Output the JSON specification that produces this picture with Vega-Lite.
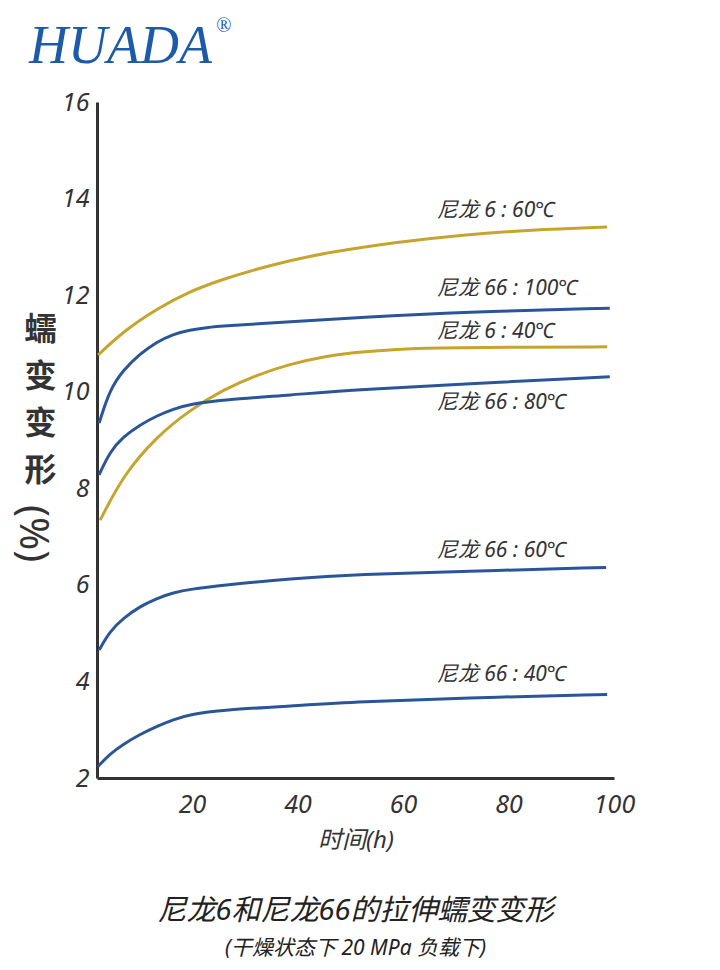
{
  "$schema": "https://vega.github.io/schema/vega-lite/v6.json",
  "width": 517,
  "height": 676,
  "autosize": {"type": "none"},
  "padding": {"left": 97, "top": 102, "right": 106, "bottom": 192},
  "background": "white",
  "config": {
    "view": {"stroke": null},
    "font": "Noto Sans, Noto Sans CJK SC"
  },
  "title": {
    "text": "尼龙6和尼龙66的拉伸蠕变变形",
    "subtitle": "(干燥状态下 20 MPa 负载下)",
    "orient": "bottom",
    "anchor": "middle",
    "frame": "group",
    "font": "Noto Sans, Noto Sans CJK SC",
    "fontSize": 29,
    "fontStyle": "italic",
    "fontWeight": "normal",
    "color": "#222222",
    "subtitleFont": "Noto Sans, Noto Sans CJK SC",
    "subtitleFontSize": 21,
    "subtitleFontStyle": "italic",
    "subtitleColor": "#222222",
    "subtitlePadding": 12,
    "offset": 45
  },
  "datasets": {
    "curves": [
      {"series": "N6_60", "material": "尼龙6", "t": 2.2, "v": 10.76},
      {"series": "N6_60", "material": "尼龙6", "t": 7.0, "v": 11.25},
      {"series": "N6_60", "material": "尼龙6", "t": 13.4, "v": 11.72},
      {"series": "N6_60", "material": "尼龙6", "t": 19.6, "v": 12.08},
      {"series": "N6_60", "material": "尼龙6", "t": 25.9, "v": 12.33},
      {"series": "N6_60", "material": "尼龙6", "t": 32.3, "v": 12.54},
      {"series": "N6_60", "material": "尼龙6", "t": 38.6, "v": 12.72},
      {"series": "N6_60", "material": "尼龙6", "t": 46.2, "v": 12.89},
      {"series": "N6_60", "material": "尼龙6", "t": 58.9, "v": 13.10},
      {"series": "N6_60", "material": "尼龙6", "t": 71.4, "v": 13.25},
      {"series": "N6_60", "material": "尼龙6", "t": 84.1, "v": 13.35},
      {"series": "N6_60", "material": "尼龙6", "t": 98.7, "v": 13.41},

      {"series": "N66_100", "material": "尼龙66", "t": 2.4, "v": 9.35},
      {"series": "N66_100", "material": "尼龙66", "t": 4.45, "v": 10.05},
      {"series": "N66_100", "material": "尼龙66", "t": 7.0, "v": 10.45},
      {"series": "N66_100", "material": "尼龙66", "t": 10.1, "v": 10.78},
      {"series": "N66_100", "material": "尼龙66", "t": 13.3, "v": 11.03},
      {"series": "N66_100", "material": "尼龙66", "t": 16.4, "v": 11.19},
      {"series": "N66_100", "material": "尼龙66", "t": 19.6, "v": 11.28},
      {"series": "N66_100", "material": "尼龙66", "t": 22.8, "v": 11.33},
      {"series": "N66_100", "material": "尼龙66", "t": 25.9, "v": 11.36},
      {"series": "N66_100", "material": "尼龙66", "t": 38.6, "v": 11.45},
      {"series": "N66_100", "material": "尼龙66", "t": 51.8, "v": 11.54},
      {"series": "N66_100", "material": "尼龙66", "t": 71.4, "v": 11.65},
      {"series": "N66_100", "material": "尼龙66", "t": 99.2, "v": 11.73},

      {"series": "N6_40", "material": "尼龙6", "t": 2.6, "v": 7.34},
      {"series": "N6_40", "material": "尼龙6", "t": 7.0, "v": 8.28},
      {"series": "N6_40", "material": "尼龙6", "t": 13.3, "v": 9.07},
      {"series": "N6_40", "material": "尼龙6", "t": 19.6, "v": 9.62},
      {"series": "N6_40", "material": "尼龙6", "t": 25.9, "v": 10.04},
      {"series": "N6_40", "material": "尼龙6", "t": 32.3, "v": 10.35},
      {"series": "N6_40", "material": "尼龙6", "t": 38.6, "v": 10.57},
      {"series": "N6_40", "material": "尼龙6", "t": 44.8, "v": 10.73},
      {"series": "N6_40", "material": "尼龙6", "t": 52.4, "v": 10.83},
      {"series": "N6_40", "material": "尼龙6", "t": 58.9, "v": 10.88},
      {"series": "N6_40", "material": "尼龙6", "t": 65.1, "v": 10.91},
      {"series": "N6_40", "material": "尼龙6", "t": 82.2, "v": 10.92},
      {"series": "N6_40", "material": "尼龙6", "t": 98.7, "v": 10.93},

      {"series": "N66_80", "material": "尼龙66", "t": 2.4, "v": 8.28},
      {"series": "N66_80", "material": "尼龙66", "t": 4.45, "v": 8.76},
      {"series": "N66_80", "material": "尼龙66", "t": 7.0, "v": 9.07},
      {"series": "N66_80", "material": "尼龙66", "t": 10.1, "v": 9.31},
      {"series": "N66_80", "material": "尼龙66", "t": 13.3, "v": 9.50},
      {"series": "N66_80", "material": "尼龙66", "t": 16.5, "v": 9.64},
      {"series": "N66_80", "material": "尼龙66", "t": 19.6, "v": 9.74},
      {"series": "N66_80", "material": "尼龙66", "t": 25.9, "v": 9.83},
      {"series": "N66_80", "material": "尼龙66", "t": 38.6, "v": 9.93},
      {"series": "N66_80", "material": "尼龙66", "t": 51.8, "v": 10.05},
      {"series": "N66_80", "material": "尼龙66", "t": 71.4, "v": 10.16},
      {"series": "N66_80", "material": "尼龙66", "t": 99.2, "v": 10.31},

      {"series": "N66_60", "material": "尼龙66", "t": 2.4, "v": 4.65},
      {"series": "N66_60", "material": "尼龙66", "t": 4.45, "v": 5.04},
      {"series": "N66_60", "material": "尼龙66", "t": 7.0, "v": 5.31},
      {"series": "N66_60", "material": "尼龙66", "t": 10.1, "v": 5.55},
      {"series": "N66_60", "material": "尼龙66", "t": 13.3, "v": 5.72},
      {"series": "N66_60", "material": "尼龙66", "t": 16.5, "v": 5.84},
      {"series": "N66_60", "material": "尼龙66", "t": 19.6, "v": 5.91},
      {"series": "N66_60", "material": "尼龙66", "t": 25.9, "v": 5.99},
      {"series": "N66_60", "material": "尼龙66", "t": 38.6, "v": 6.13},
      {"series": "N66_60", "material": "尼龙66", "t": 51.8, "v": 6.22},
      {"series": "N66_60", "material": "尼龙66", "t": 71.4, "v": 6.28},
      {"series": "N66_60", "material": "尼龙66", "t": 98.5, "v": 6.36},

      {"series": "N66_40", "material": "尼龙66", "t": 2.2, "v": 2.24},
      {"series": "N66_40", "material": "尼龙66", "t": 4.45, "v": 2.50},
      {"series": "N66_40", "material": "尼龙66", "t": 7.0, "v": 2.70},
      {"series": "N66_40", "material": "尼龙66", "t": 10.1, "v": 2.90},
      {"series": "N66_40", "material": "尼龙66", "t": 13.3, "v": 3.07},
      {"series": "N66_40", "material": "尼龙66", "t": 16.5, "v": 3.21},
      {"series": "N66_40", "material": "尼龙66", "t": 19.6, "v": 3.32},
      {"series": "N66_40", "material": "尼龙66", "t": 25.9, "v": 3.41},
      {"series": "N66_40", "material": "尼龙66", "t": 38.6, "v": 3.49},
      {"series": "N66_40", "material": "尼龙66", "t": 51.8, "v": 3.58},
      {"series": "N66_40", "material": "尼龙66", "t": 71.4, "v": 3.66},
      {"series": "N66_40", "material": "尼龙66", "t": 98.7, "v": 3.73}
    ],
    "labels": [
      {"label": "尼龙 6 : 60℃", "t": 66.4, "v": 13.74},
      {"label": "尼龙 66 : 100℃", "t": 66.4, "v": 12.13},
      {"label": "尼龙 6 : 40℃", "t": 66.4, "v": 11.24},
      {"label": "尼龙 66 : 80℃", "t": 66.4, "v": 9.77},
      {"label": "尼龙 66 : 60℃", "t": 66.4, "v": 6.70},
      {"label": "尼龙 66 : 40℃", "t": 66.4, "v": 4.13}
    ]
  },
  "layer": [
    {
      "data": {"name": "curves"},
      "mark": {"type": "line", "interpolate": "basis", "strokeWidth": 3},
      "encoding": {
        "x": {
          "field": "t", "type": "quantitative",
          "scale": {"domain": [2, 100], "nice": false, "zero": false},
          "axis": {
            "values": [20, 40, 60, 80, 100],
            "ticks": false, "grid": false,
            "domainColor": "#333333", "domainWidth": 3,
            "labelFont": "Noto Sans",
            "labelFontSize": 25, "labelFontStyle": "italic", "labelColor": "#333333",
            "labelPadding": 14, "labelFlush": false,
            "title": "时间(h)",
            "titleFont": "Noto Sans, Noto Sans CJK SC",
            "titleFontSize": 24, "titleFontStyle": "italic", "titleFontWeight": "normal",
            "titleColor": "#333333", "titlePadding": 11
          }
        },
        "y": {
          "field": "v", "type": "quantitative",
          "scale": {"domain": [2, 16], "nice": false, "zero": false},
          "axis": {
            "values": [2, 4, 6, 8, 10, 12, 14, 16],
            "ticks": false, "grid": false,
            "domainColor": "#333333", "domainWidth": 3,
            "labelFont": "Noto Sans",
            "labelFontSize": 25, "labelFontStyle": "italic", "labelColor": "#333333",
            "labelPadding": 8, "labelFlush": false,
            "title": ["蠕", "变", "变", "形"],
            "titleFont": "Noto Sans CJK SC",
            "titleFontSize": 32, "titleFontWeight": "bold", "titleColor": "#333333",
            "titleAngle": 0, "titleAlign": "center", "titleBaseline": "top",
            "titleLineHeight": 47,
            "titleX": -57, "titleY": 212
          }
        },
        "color": {
          "field": "material", "type": "nominal",
          "scale": {"domain": ["尼龙6", "尼龙66"], "range": ["#c6a42e", "#2a5699"]},
          "legend": null
        },
        "detail": {"field": "series"}
      }
    },
    {
      "data": {"name": "labels"},
      "mark": {
        "type": "text", "align": "left", "baseline": "middle",
        "font": "Noto Sans, Noto Sans CJK SC",
        "fontSize": 21, "fontStyle": "italic", "color": "#333333"
      },
      "encoding": {
        "x": {"field": "t", "type": "quantitative", "scale": {"domain": [2, 100], "nice": false, "zero": false}},
        "y": {"field": "v", "type": "quantitative", "scale": {"domain": [2, 16], "nice": false, "zero": false}},
        "text": {"field": "label"}
      }
    },
    {
      "data": {"values": [{"txt": "(%)"}]},
      "mark": {
        "type": "text", "align": "center", "baseline": "middle", "angle": 90,
        "font": "Noto Sans", "fontSize": 40, "fontWeight": "normal", "color": "#333333"
      },
      "encoding": {
        "x": {"datum": -10.3, "type": "quantitative", "scale": {"domain": [2, 100], "nice": false, "zero": false}},
        "y": {"datum": 7.06, "type": "quantitative", "scale": {"domain": [2, 16], "nice": false, "zero": false}},
        "text": {"field": "txt"}
      }
    },
    {
      "data": {"values": [{"txt": "HUADA"}]},
      "mark": {
        "type": "text", "align": "left", "baseline": "alphabetic",
        "font": "Liberation Serif", "fontSize": 54, "fontStyle": "italic", "color": "#1d5ba8"
      },
      "encoding": {
        "x": {"datum": -10.9, "type": "quantitative", "scale": {"domain": [2, 100], "nice": false, "zero": false}},
        "y": {"datum": 16.81, "type": "quantitative", "scale": {"domain": [2, 16], "nice": false, "zero": false}},
        "text": {"field": "txt"}
      }
    },
    {
      "data": {"values": [{"txt": "®"}]},
      "mark": {
        "type": "text", "align": "left", "baseline": "alphabetic",
        "font": "Liberation Serif", "fontSize": 20, "color": "#1d5ba8"
      },
      "encoding": {
        "x": {"datum": 24.6, "type": "quantitative", "scale": {"domain": [2, 100], "nice": false, "zero": false}},
        "y": {"datum": 17.45, "type": "quantitative", "scale": {"domain": [2, 16], "nice": false, "zero": false}},
        "text": {"field": "txt"}
      }
    }
  ]
}
